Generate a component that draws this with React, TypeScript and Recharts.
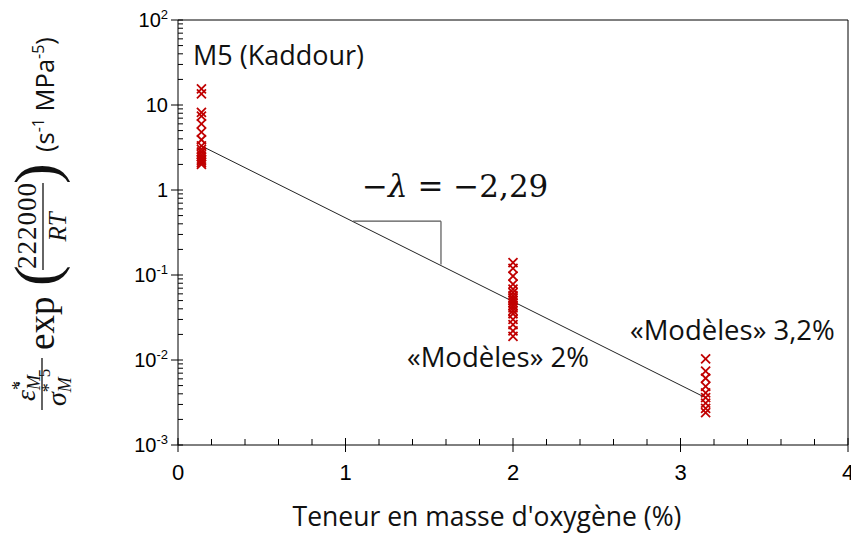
import { ScatterChart, Scatter, XAxis, YAxis, ReferenceLine } from "recharts"

// oxygen content (%) of each group of tests
const m5X = 0.14
const mod2X = 2.0
const mod32X = 3.15

// normalised creep rate (s-1 MPa-5)
const m5Values = [15.5, 13.5, 8.2, 7.4, 6.0, 4.8, 3.9, 3.3, 3.0, 2.8, 2.6, 2.45, 2.3, 2.2, 2.1, 2.0]
const mod2Values = [
  0.14, 0.12, 0.097, 0.078, 0.068, 0.062, 0.057, 0.053, 0.05, 0.047, 0.044, 0.041, 0.038,
  0.035, 0.03, 0.026, 0.022, 0.019,
]
const mod32Values = [0.0103, 0.0074, 0.0061, 0.0049, 0.0041, 0.0036, 0.0031, 0.0027, 0.0024]

// fitted line ends and slope triangle corners
const fitX = [0.14, 3.15]
const fitY = [3.3, 0.0036]
const slopeX = [1.045, 1.57]
const slopeY = [0.43, 0.133]

const xTicks = [0, 0.2, 0.4, 0.6, 0.8, 1, 1.2, 1.4, 1.6, 1.8, 2, 2.2, 2.4, 2.6, 2.8, 3, 3.2, 3.4, 3.6, 3.8, 4]
const yTicks = [
  0.001, 0.002, 0.003, 0.004, 0.005, 0.006, 0.007, 0.008, 0.009,
  0.01, 0.02, 0.03, 0.04, 0.05, 0.06, 0.07, 0.08, 0.09,
  0.1, 0.2, 0.3, 0.4, 0.5, 0.6, 0.7, 0.8, 0.9,
  1, 2, 3, 4, 5, 6, 7, 8, 9,
  10, 20, 30, 40, 50, 60, 70, 80, 90, 100,
]

const m5Data = m5Values.map((y) => ({ x: m5X, y }))
const mod2Data = mod2Values.map((y) => ({ x: mod2X, y }))
const mod32Data = mod32Values.map((y) => ({ x: mod32X, y }))

const SANS = "'Open Sans', sans-serif"
const ARIAL = "'Liberation Sans', Arial, sans-serif"
const SERIF = "'Liberation Serif', 'Times New Roman', serif"
const MATH = "'DejaVu Serif', serif"
const RED = "#c00000"

function XMark(props: any) {
  const { cx, cy } = props
  if (cx == null || cy == null) return null
  const r = 4.5
  return (
    <g stroke={RED} strokeWidth={1.8}>
      <line x1={cx - r} y1={cy - r} x2={cx + r} y2={cy + r} />
      <line x1={cx - r} y1={cy + r} x2={cx + r} y2={cy - r} />
    </g>
  )
}

function XTick(props: any) {
  const { x, y, payload } = props
  const v = payload.value
  const major = Math.abs(v - Math.round(v)) < 1e-6
  return (
    <g>
      <line x1={x} x2={x} y1={y - (major ? 7 : 6)} y2={major ? y + 7 : y} stroke="#000" />
      {major && (
        <text x={x} y={y + 35} textAnchor="middle" fontFamily={ARIAL} fontSize={22} fill="#000">
          {Math.round(v)}
        </text>
      )}
    </g>
  )
}

function YTick(props: any) {
  const { x, y, payload } = props
  const e = Math.log10(payload.value)
  const major = Math.abs(e - Math.round(e)) < 1e-6
  const p = Math.round(e)
  return (
    <g>
      <line x1={major ? x - 7 : x} x2={x + 5} y1={y} y2={y} stroke="#000" />
      {major && (
        <text x={x - 10} y={y + 7} textAnchor="end" fontFamily={ARIAL} fontSize={20} fill="#000">
          {p === 0 ? "1" : "10"}
          {p !== 0 && p !== 1 && (
            <tspan dy={-8} fontSize={13}>
              {p}
            </tspan>
          )}
        </text>
      )}
    </g>
  )
}

function Overlay() {
  return (
    <svg
      width={851}
      height={534}
      style={{ position: "absolute", left: 0, top: 0, pointerEvents: "none" }}
    >
      <text x={193} y={65} fontFamily={SANS} fontSize={27} fill="#111">
        M5 (Kaddour)
      </text>
      <text x={362} y={197} fontFamily={MATH} fontSize={31} fill="#111">
        −<tspan fontStyle="italic">λ</tspan> = −2,29
      </text>
      <text x={407} y={367} fontFamily={SANS} fontSize={27.5} fill="#111">
        «Modèles» 2%
      </text>
      <text x={630} y={340} fontFamily={SANS} fontSize={27.5} fill="#111">
        «Modèles» 3,2%
      </text>
      <text x={487} y={526} textAnchor="middle" fontFamily={SANS} fontSize={26.5} fill="#111">
        Teneur en masse d'oxygène (%)
      </text>

      {/* y axis title, written along the axis */}
      <g transform="translate(0,534) rotate(-90)" fill="#111">
        <text x={133} y={35} fontFamily={SERIF} fontSize={28} fontStyle="italic">
          ε̇
          <tspan dy={-10} fontSize={18} fontStyle="normal">*</tspan>
          <tspan dx={-9} dy={15} fontSize={18}>M</tspan>
        </text>
        <line x1={124} x2={176} y1={42} y2={42} stroke="#111" strokeWidth={1.3} />
        <text x={128} y={66} fontFamily={SERIF} fontSize={28} fontStyle="italic">
          σ
          <tspan dy={-11} fontSize={18} fontStyle="normal">*</tspan>
          <tspan dx={-9} dy={16} fontSize={18}>M</tspan>
          <tspan dy={-21} fontSize={17} fontStyle="normal">5</tspan>
        </text>
        <text x={184} y={54} fontFamily={SERIF} fontSize={37}>
          exp
        </text>
        <text x={248} y={57} fontFamily={SERIF} fontSize={62}>
          (
        </text>
        <text x={265} y={36} fontFamily={SERIF} fontSize={27} textLength={86}>
          222000
        </text>
        <line x1={264} x2={351} y1={43} y2={43} stroke="#111" strokeWidth={1.3} />
        <text x={307} y={66} textAnchor="middle" fontFamily={SERIF} fontSize={25} fontStyle="italic">
          RT
        </text>
        <text x={350} y={57} fontFamily={SERIF} fontSize={62}>
          )
        </text>
        <text x={382} y={54} fontFamily={SANS} fontSize={25.5}>
          (s<tspan dy={-10} fontSize={16}>-1</tspan>
          <tspan dy={10}> MPa</tspan>
          <tspan dy={-10} fontSize={16}>-5</tspan>
          <tspan dy={10}>)</tspan>
        </text>
      </g>
    </svg>
  )
}

export default function App() {
  return (
    <div style={{ position: "absolute", left: 0, top: 0, width: 851, height: 534, background: "#fff" }}>
      <ScatterChart width={851} height={534} margin={{ top: 20, right: 3, bottom: 0, left: 0 }}>
        <XAxis
          type="number"
          dataKey="x"
          domain={[0, 4]}
          ticks={xTicks}
          interval={0}
          height={89}
          tickSize={0}
          tickMargin={0}
          tickLine={false}
          tick={XTick}
          axisLine={{ stroke: "#000" }}
          allowDataOverflow
        />
        <YAxis
          type="number"
          dataKey="y"
          scale="log"
          domain={[0.001, 100]}
          ticks={yTicks}
          interval={0}
          width={178}
          tickSize={0}
          tickMargin={0}
          tickLine={false}
          tick={YTick}
          axisLine={{ stroke: "#000" }}
          allowDataOverflow
        />
        <ReferenceLine y={100} stroke="#000" />
        <ReferenceLine x={4} stroke="#000" />
        <ReferenceLine
          segment={[
            { x: fitX[0], y: fitY[0] },
            { x: fitX[1], y: fitY[1] },
          ]}
          stroke="#222"
          strokeWidth={1}
        />
        <ReferenceLine
          segment={[
            { x: slopeX[0], y: slopeY[0] },
            { x: slopeX[1], y: slopeY[0] },
          ]}
          stroke="#555"
          strokeWidth={1.2}
        />
        <ReferenceLine
          segment={[
            { x: slopeX[1], y: slopeY[0] },
            { x: slopeX[1], y: slopeY[1] },
          ]}
          stroke="#555"
          strokeWidth={1.2}
        />
        <Scatter data={m5Data} shape={XMark} isAnimationActive={false} />
        <Scatter data={mod2Data} shape={XMark} isAnimationActive={false} />
        <Scatter data={mod32Data} shape={XMark} isAnimationActive={false} />
      </ScatterChart>
      <Overlay />
    </div>
  )
}
